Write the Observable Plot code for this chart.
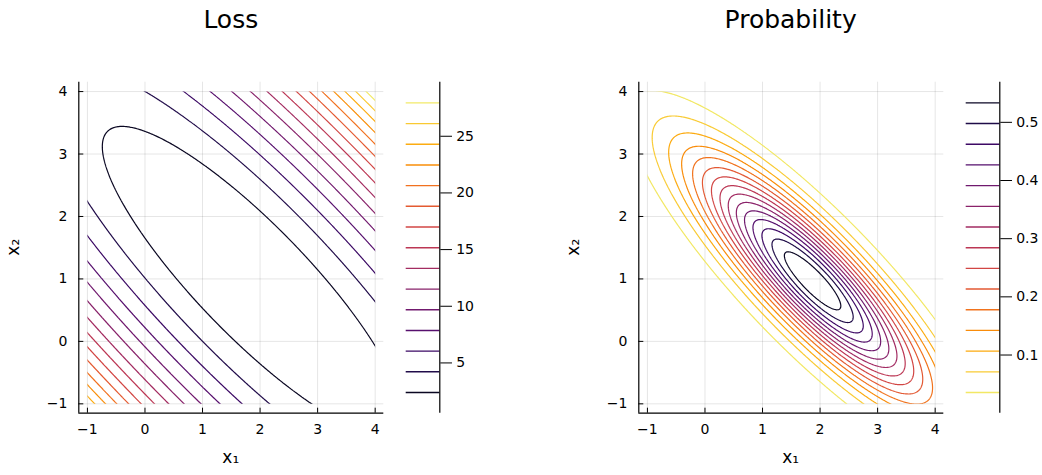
<!DOCTYPE html>
<html>
<head>
<meta charset="utf-8">
<script src="https://cdn.jsdelivr.net/npm/d3@7"></script>
<script src="https://cdn.jsdelivr.net/npm/@observablehq/plot@0.6"></script>
<style>
  body { margin: 0; background: #fff; font-family: "DejaVu Sans", sans-serif; }
  #root { position: relative; width: 1042px; height: 475px; overflow: hidden; }
  #root > svg { position: absolute; top: 0; }
</style>
</head>
<body>
<div id="root"></div>
<script>
// ---- data ----
const titles = ["Loss", "Probability"];
const xLabel = "x₁";
const yLabel = "x₂";
const axisTicks = [-1, 0, 1, 2, 3, 4];
const gridExtent = [-1, 4];           // sampled region of x₁, x₂
const axisDomain = [-1.15, 4.15];     // visible axis range
const center = [1.87, 0.97];          // minimum of the loss
const curvature = [2.18, 2.0, 2.432]; // a, b, c of the quadratic form
const lossRange = [0.564, 29.77];     // colorbar range (loss)
const probRange = [0, 0.569];         // colorbar range (probability)
const lossLevels = [2.389, 4.215, 6.040, 7.866, 9.691, 11.516, 13.342, 15.167, 16.993, 18.818, 20.643, 22.469, 24.294, 26.119, 27.945];
const probLevels = [0.0356, 0.0711, 0.1067, 0.1423, 0.1778, 0.2134, 0.2489, 0.2845, 0.3201, 0.3556, 0.3912, 0.4268, 0.4623, 0.4979, 0.5334];
const lossTicks = [5, 10, 15, 20, 25];
const probTicks = [0.1, 0.2, 0.3, 0.4, 0.5];

function lossAt(x1, x2) {
  const dx = x1 - center[0], dy = x2 - center[1];
  return lossRange[0] + 0.5 * (curvature[0] * dx * dx + 2 * curvature[1] * dx * dy + curvature[2] * dy * dy);
}
function probAt(x1, x2) { return Math.exp(-lossAt(x1, x2)); }

const panels = [
  {title: titles[0], f: lossAt, range: lossRange, levels: lossLevels, ticks: lossTicks, reverse: false, offset: 0},
  {title: titles[1], f: probAt, range: probRange, levels: probLevels, ticks: probTicks, reverse: true, offset: 559.8}
];

const root = document.getElementById("root");
const ns = "http://www.w3.org/2000/svg";
const W = 400, H = 475, mL = 78.3, mR = 16.7, mT = 81.7, mB = 62.3;
const fontStyle = {fontFamily: "DejaVu Sans", fontSize: "14px", background: "transparent", color: "#000", overflow: "visible"};
const fmt = d3.format("~g");
const pad = 0.4;

panels.forEach((p, i) => {
  const colorOpts = {type: "linear", domain: p.range, scheme: "inferno", reverse: p.reverse};
  const main = Plot.plot({
    width: W, height: H, marginLeft: mL, marginRight: mR, marginTop: mT, marginBottom: mB,
    style: fontStyle,
    x: {domain: axisDomain},
    y: {domain: axisDomain},
    color: colorOpts,
    marks: [
      Plot.gridX(axisTicks, {stroke: "#000", strokeOpacity: 0.1, strokeWidth: 1}),
      Plot.gridY(axisTicks, {stroke: "#000", strokeOpacity: 0.1, strokeWidth: 1}),
      Plot.contour({
        value: p.f,
        x1: gridExtent[0] - pad, x2: gridExtent[1] + pad,
        y1: gridExtent[0] - pad, y2: gridExtent[1] + pad,
        thresholds: p.levels, stroke: "value", fill: "none", strokeWidth: 1.2, pixelSize: 1
      }),
      Plot.ruleX([axisDomain[0]], {stroke: "#000", strokeWidth: 1.2}),
      Plot.ruleY([axisDomain[0]], {stroke: "#000", strokeWidth: 1.2}),
      Plot.axisX(axisTicks, {tickSize: -5, tickPadding: 16.3, tickFormat: fmt, label: null, stroke: "#000"}),
      Plot.axisY(axisTicks, {tickSize: -5, tickPadding: 16.3, tickFormat: fmt, label: null, stroke: "#000"})
    ]
  });
  main.style.left = p.offset + "px";
  // clip the contour lines to the sampled region
  const sx = main.scale("x"), sy = main.scale("y");
  const x0 = sx.apply(gridExtent[0]), x1 = sx.apply(gridExtent[1]);
  const y0 = sy.apply(gridExtent[1]), y1 = sy.apply(gridExtent[0]);
  const defs = document.createElementNS(ns, "defs");
  const cp = document.createElementNS(ns, "clipPath");
  cp.setAttribute("id", "clipc" + i);
  const r = document.createElementNS(ns, "rect");
  r.setAttribute("x", x0); r.setAttribute("y", y0);
  r.setAttribute("width", x1 - x0); r.setAttribute("height", y1 - y0);
  cp.appendChild(r); defs.appendChild(cp); main.insertBefore(defs, main.firstChild);
  const cg = main.querySelector('g[aria-label="contour"]');
  if (cg) cg.setAttribute("clip-path", `url(#clipc${i})`);
  root.appendChild(main);

  const cb = Plot.plot({
    width: 86, height: H, marginLeft: 10.7, marginRight: 41.7, marginTop: mT, marginBottom: mB,
    style: fontStyle,
    x: {domain: [0, 1], axis: null},
    y: {domain: p.range, axis: null},
    color: colorOpts,
    marks: [
      Plot.ruleY(p.levels, {y: d => d, stroke: d => d, strokeWidth: 1.4}),
      Plot.ruleX([1], {stroke: "#000", strokeWidth: 1.2}),
      Plot.axisY(p.ticks, {anchor: "right", tickSize: 11.7, tickPadding: 4.7, tickFormat: fmt, label: null, stroke: "#000"})
    ]
  });
  cb.style.left = (p.offset + 395) + "px";
  root.appendChild(cb);
});

// text overlay: titles and axis labels
const ov = document.createElementNS(ns, "svg");
ov.setAttribute("width", 1042); ov.setAttribute("height", 475);
ov.style.pointerEvents = "none"; ov.style.left = "0px";
function addText(str, x, y, size, rotate) {
  const t = document.createElementNS(ns, "text");
  t.textContent = str;
  t.setAttribute("text-anchor", "middle");
  t.setAttribute("font-family", "DejaVu Sans");
  t.setAttribute("font-size", size);
  t.setAttribute("fill", "#000");
  t.setAttribute("transform", `translate(${x},${y})` + (rotate ? " rotate(-90)" : ""));
  ov.appendChild(t);
}
panels.forEach(p => {
  const cx = p.offset + (mL + (W - mR)) / 2;
  addText(p.title, cx, 27.5, 25, false);
  addText(xLabel, cx, 462.7, 17, false);
  addText(yLabel, p.offset + 19.3, (mT + (H - mB)) / 2, 17, true);
});
root.appendChild(ov);
</script>
</body>
</html>
